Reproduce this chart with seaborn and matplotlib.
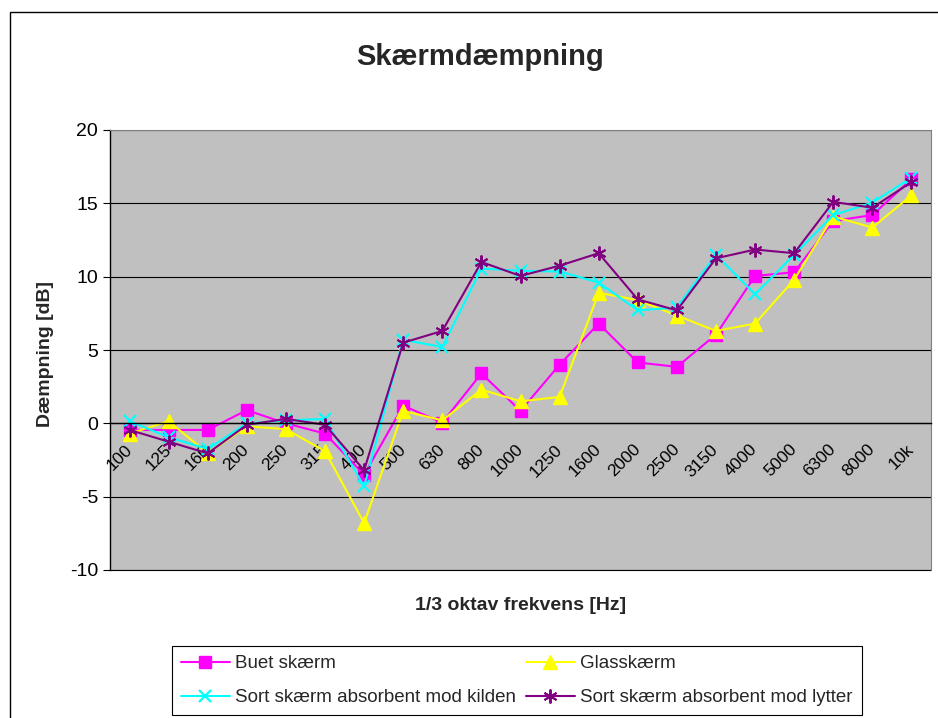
import numpy as np
import matplotlib
matplotlib.use("Agg")
import matplotlib.pyplot as plt
import matplotlib.transforms as mtrans
import seaborn as sns
from matplotlib.patches import Rectangle
from matplotlib.ticker import FixedLocator

sns.set_style("white")
plt.rcParams['font.family'] = ['Liberation Sans', 'DejaVu Sans']
plt.rcParams['axes.unicode_minus'] = False

categories = ['100', '125', '160', '200', '250', '315', '400', '500', '630', '800', '1000',
              '1250', '1600', '2000', '2500', '3150', '4000', '5000', '6300', '8000', '10k']
buet = [-0.45, -0.45, -0.45, 0.9, 0.0, -0.7, -3.5, 1.2, 0.05, 3.4, 0.85,
        4.0, 6.8, 4.15, 3.85, 6.05, 10.05, 10.3, 13.8, 14.2, 16.65]
glas = [-0.7, 0.15, -2.05, -0.2, -0.4, -1.9, -6.8, 0.85, 0.2, 2.3, 1.5,
        1.8, 8.9, 8.4, 7.35, 6.3, 6.8, 9.8, 14.1, 13.35, 15.55]
kilden = [0.15, -0.95, -1.75, 0.0, 0.2, 0.3, -4.3, 5.7, 5.2, 10.55, 10.4,
          10.35, 9.6, 7.7, 7.9, 11.5, 8.8, 11.5, 14.2, 15.05, 16.75]
lytter = [-0.45, -1.25, -2.05, -0.1, 0.3, -0.1, -3.2, 5.5, 6.3, 11.0, 10.05,
          10.75, 11.6, 8.45, 7.7, 11.25, 11.85, 11.6, 15.1, 14.7, 16.45]
labels = ['Buet skærm', 'Glasskærm', 'Sort skærm absorbent mod kilden',
          'Sort skærm absorbent mod lytter']
yticks = [-10, -5, 0, 5, 10, 15, 20]

W, H = 938, 718
fig = plt.figure(figsize=(W / 100, H / 100), dpi=100)
fig.patch.set_facecolor('white')

# outer chart border (extends beyond the image at right/bottom)
fig.patches.append(Rectangle((10 / W, -0.2), 1.2, 1 - 12 / H + 0.2, transform=fig.transFigure,
                             fill=False, edgecolor='black', linewidth=1.0))

ax = fig.add_axes([110 / W, 1 - 570 / H, (931 - 110) / W, 440 / H])
ax.set_facecolor('#C0C0C0')

idx = np.arange(len(categories))
styles = [
    (buet, '#FF00FF', dict(marker='s', markersize=9, markeredgewidth=1)),
    (glas, '#FFFF00', dict(marker='^', markersize=10, markeredgewidth=1)),
    (kilden, '#00FFFF', dict(marker='x', markersize=9, markeredgewidth=1.6)),
    (lytter, '#800080', dict(marker=(6, 2, 0), markersize=10, markeredgewidth=1.4)),
]
for (vals, col, mk), lab in zip(styles, labels):
    sns.lineplot(x=idx, y=vals, ax=ax, color=col, linewidth=1.5, label=lab,
                 markeredgecolor=col, markerfacecolor=col, **mk)

ax.set_xlim(-0.5, len(categories) - 0.5)
ax.set_ylim(-10, 20)
ax.set_yticks(yticks)
ax.grid(axis='y', color='black', linewidth=0.8)
ax.axhline(yticks[0], color='black', linewidth=0.8, clip_on=False, zorder=0.5)
ax.set_axisbelow(True)

for s in ['top', 'right']:
    ax.spines[s].set_color('#808080')
    ax.spines[s].set_linewidth(0.8)
ax.spines['left'].set_color('black')
ax.spines['left'].set_linewidth(1.0)
ax.spines['bottom'].set_position(('data', 0))
ax.spines['bottom'].set_color('black')
ax.spines['bottom'].set_linewidth(1.0)

ax.set_xticks(idx)
ax.set_xticklabels(categories, rotation=45, ha='right', va='center', rotation_mode='anchor')
shift = mtrans.ScaledTranslation(-1.5 / 100, -7.5 / 100, fig.dpi_scale_trans)
for t in ax.get_xticklabels():
    t.set_transform(t.get_transform() + shift)
ax.xaxis.set_minor_locator(FixedLocator(np.arange(-0.5, len(categories), 1.0)))
ax.tick_params(axis='x', which='major', length=0, pad=17, labelsize=12.5, colors='black')
ax.tick_params(axis='x', which='minor', length=4.5, width=0.8, direction='out', color='black')
ax.tick_params(axis='y', which='major', length=5, width=0.8, direction='out', pad=3.5,
               labelsize=14, colors='black', left=True)
ax.set_xlabel('')
ax.set_ylabel('')

fig.text(480 / W, 1 - 57 / H, 'Skærmdæmpning', ha='center', va='center',
         fontsize=21, fontweight='bold')
fig.text(521 / W, 1 - 605 / H, '1/3 oktav frekvens [Hz]', ha='center', va='center',
         fontsize=14, fontweight='bold')
fig.text(45 / W, 1 - 354 / H, 'Dæmpning [dB]', ha='center', va='center', rotation=90,
         fontsize=14, fontweight='bold')

h, l = ax.get_legend_handles_labels()
ax.get_legend().remove()
order = [0, 2, 1, 3]
leg = fig.legend([h[i] for i in order], [l[i] for i in order], ncol=2,
                 loc='upper left', bbox_to_anchor=(172 / W, 1 - 646 / H),
                 fontsize=13.5, frameon=True, fancybox=False, shadow=False,
                 edgecolor='black', framealpha=1, handlelength=2.6, handletextpad=0.3,
                 columnspacing=0.5, borderpad=0.48, labelspacing=0.9, borderaxespad=0)
leg.get_frame().set_linewidth(0.8)

fig.savefig('out.png', dpi=100)
